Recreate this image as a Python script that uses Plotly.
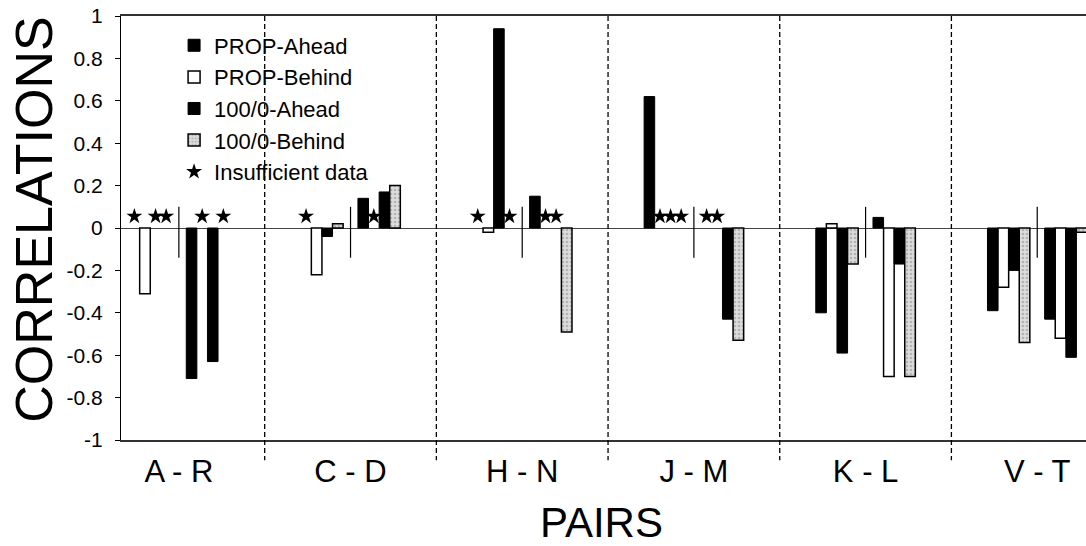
import plotly.graph_objects as go

# ---------------- data ----------------
pairs = ["A - R", "C - D", "H - N", "J - M", "K - L", "V - T"]
series_names = ["PROP-Ahead", "PROP-Behind", "100/0-Ahead", "100/0-Behind"]

# first member of each pair (left half) and second member (right half); None = insufficient data
prop_ahead_1 = [None, None, None, 0.62, -0.40, -0.39]
prop_ahead_2 = [-0.71, 0.14, 0.15, None, 0.05, -0.43]
prop_behind_1 = [-0.31, -0.22, -0.02, None, 0.02, -0.28]
prop_behind_2 = [None, None, None, None, -0.70, -0.52]
full_ahead_1 = [None, -0.04, 0.94, None, -0.59, -0.20]
full_ahead_2 = [-0.63, 0.17, None, -0.43, -0.17, -0.61]
full_behind_1 = [None, 0.02, None, None, -0.17, -0.54]
full_behind_2 = [None, 0.20, -0.49, -0.53, -0.70, -0.02]

y_tick_vals = [1, 0.8, 0.6, 0.4, 0.2, 0, -0.2, -0.4, -0.6, -0.8, -1]
y_tick_text = ["1", "0.8", "0.6", "0.4", "0.2", "0", "-0.2", "-0.4", "-0.6", "-0.8", "-1"]

series_values = [
    (prop_ahead_1, prop_ahead_2),
    (prop_behind_1, prop_behind_2),
    (full_ahead_1, full_ahead_2),
    (full_behind_1, full_behind_2),
]

# ---------------- geometry / style ----------------
FONT = "Liberation Sans, Arial, Helvetica, sans-serif"
SLOT = 0.0617      # bar width / slot spacing (category units)
GAP = 0.074        # offset of the innermost bar centre from the group centre


def slot_x(group, half, k):
    if half == 0:
        return group - (GAP + (3 - k) * SLOT)
    return group + GAP + k * SLOT


styles = [
    dict(color="#000000", line=dict(color="#000000", width=1)),
    dict(color="#ffffff", line=dict(color="#000000", width=1.5)),
    dict(color="#000000", line=dict(color="#000000", width=1)),
    dict(color="#d6d6d6", line=dict(color="#000000", width=1.5),
         pattern=dict(shape=".", fgcolor="#8a8a8a", bgcolor="#dcdcdc", size=4, solidity=0.35)),
]

fig = go.Figure()

star_x, star_y = [], []
for k, (name, (v1, v2)) in enumerate(zip(series_names, series_values)):
    xs, ys = [], []
    for half, vals in enumerate((v1, v2)):
        for g, v in enumerate(vals):
            x = slot_x(g, half, k)
            xs.append(x)
            ys.append(v)
            if v is None:
                star_x.append(x)
                star_y.append(0.055)
    fig.add_trace(go.Bar(x=xs, y=ys, width=SLOT, name=name, marker=styles[k]))

fig.add_trace(go.Scatter(x=star_x, y=star_y, mode="markers", name="Insufficient data",
                         marker=dict(symbol="star", size=12, color="#000000",
                                     line=dict(width=0))))

# group dividers (dashed) and member separators (short solid)
shapes = []
for g in range(len(pairs) - 1):
    shapes.append(dict(type="line", xref="x", yref="paper", x0=g + 0.5, x1=g + 0.5,
                       y0=1, y1=-0.048, line=dict(color="#000000", width=1.3, dash="5px,3px")))
for g in range(len(pairs)):
    shapes.append(dict(type="line", xref="x", yref="y", x0=g, x1=g, y0=0.10, y1=-0.14,
                       line=dict(color="#000000", width=1.2)))

fig.update_layout(
    width=1086, height=546,
    margin=dict(l=121, r=0, t=16, b=106, autoexpand=False),
    paper_bgcolor="white", plot_bgcolor="white",
    barmode="overlay",
    font=dict(family=FONT, color="#000000"),
    showlegend=True,
    legend=dict(x=0.055, y=0.98, xanchor="left", yanchor="top",
                bgcolor="rgba(0,0,0,0)", font=dict(size=22, family=FONT),
                traceorder="normal"),
    shapes=shapes,
    annotations=[
        dict(text="CORRELATIONS", xref="paper", yref="paper", x=-0.091, y=0.52,
             textangle=-90, showarrow=False, font=dict(size=52, family=FONT),
             xanchor="center", yanchor="middle"),
        dict(text="PAIRS", xref="paper", yref="paper", x=0.498, y=-0.195,
             showarrow=False, font=dict(size=42, family=FONT),
             xanchor="center", yanchor="middle"),
    ],
)

fig.update_xaxes(
    range=[-0.337, 5.284], tickvals=list(range(len(pairs))), ticktext=pairs,
    ticks="", showgrid=False, zeroline=False, automargin=False,
    showline=True, linecolor="#333333", linewidth=1.5, mirror=True,
    tickfont=dict(size=31, family=FONT), ticklabelstandoff=3,
    ticklabeloverflow="allow",
)
fig.update_yaxes(
    range=[-1, 1], tickvals=y_tick_vals, ticktext=y_tick_text,
    ticks="outside", ticklen=5, tickcolor="#000000", showgrid=False,
    zeroline=True, zerolinecolor="#444444", zerolinewidth=1, automargin=False,
    showline=True, linecolor="#000000", linewidth=1.2, mirror=False,
    tickfont=dict(size=21, family=FONT), ticklabelstandoff=8,
    ticklabeloverflow="allow",
)

# remove the browser's default 8px page margin so the figure fills the window exactly
fig.write_html("out.html", config={"displayModeBar": False},
               post_script="document.body.style.margin='0px';")
